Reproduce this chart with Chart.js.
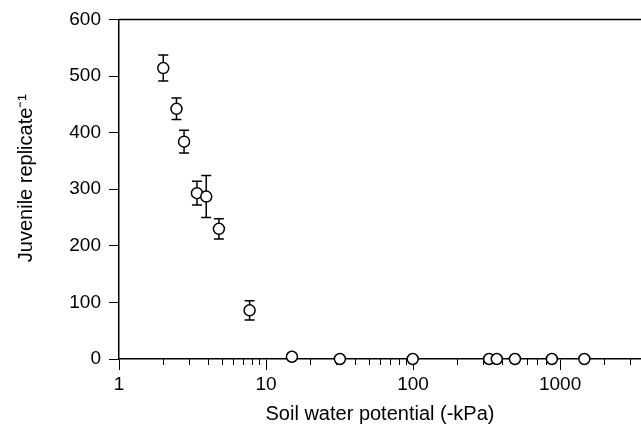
<!DOCTYPE html>
<html lang="en">
<head>
    <meta charset="UTF-8">
    <title>Juveniles vs soil water potential</title>
    <script src="https://cdn.jsdelivr.net/npm/chart.js"></script>
    <style>
        html, body { margin: 0; padding: 0; background: #fff; }
        .chart-container { position: relative; width: 641px; height: 433px; }
    </style>
</head>
<body>
<div class="chart-container">
    <canvas id="myChart"></canvas>
</div>
<script>
    // Data
    const potential = [2.0, 2.46, 2.77, 3.39, 3.92, 4.78, 7.73, 15.0, 31.8, 99.5, 329, 371, 493, 879, 1462];
    const juveniles = [514, 442, 384, 293, 287, 230, 86, 4, 0, 0, 0, 0, 0, 0, 0];
    const errors = [23, 19, 20, 21, 37, 18, 17, 0, 0, 0, 0, 0, 0, 0, 0];
    const xTicks = [1, 2, 3, 4, 5, 6, 7, 8, 9, 10, 20, 30, 40, 50, 60, 70, 80, 90,
        100, 200, 300, 400, 500, 600, 700, 800, 900, 1000, 2000, 3000];
    const xLabels = [1, 10, 100, 1000];
    const yTicks = [0, 100, 200, 300, 400, 500, 600];

    const family = '"Liberation Sans", Arial, sans-serif';
    const tickFont = { family: family, size: 19 };
    const titleFont = { family: family, size: 20 };

    // error bars drawn behind the circles
    const errorBars = {
        id: 'errorBars',
        beforeDatasetsDraw(chart) {
            const { ctx, scales: { x, y } } = chart;
            ctx.save();
            ctx.strokeStyle = '#000';
            ctx.lineWidth = 1.5;
            potential.forEach((p, i) => {
                if (!errors[i]) return;
                const px = x.getPixelForValue(p);
                const top = y.getPixelForValue(juveniles[i] + errors[i]);
                const bot = y.getPixelForValue(juveniles[i] - errors[i]);
                ctx.beginPath();
                ctx.moveTo(px, top); ctx.lineTo(px, bot);
                ctx.moveTo(px - 5, top); ctx.lineTo(px + 5, top);
                ctx.moveTo(px - 5, bot); ctx.lineTo(px + 5, bot);
                ctx.stroke();
            });
            ctx.restore();
        }
    };

    // top frame line and short minor ticks on the log axis
    const frame = {
        id: 'frame',
        beforeDatasetsDraw(chart) {
            const { ctx, chartArea, scales: { x } } = chart;
            ctx.save();
            ctx.strokeStyle = '#000';
            ctx.lineWidth = 1.5;
            ctx.beginPath();
            ctx.moveTo(chartArea.left, chartArea.top);
            ctx.lineTo(chartArea.right, chartArea.top);
            ctx.stroke();
            ctx.lineWidth = 1;
            ctx.beginPath();
            xTicks.filter(v => !xLabels.includes(v)).forEach(v => {
                const px = Math.round(x.getPixelForValue(v)) + 0.5;
                ctx.moveTo(px, chartArea.bottom);
                ctx.lineTo(px, chartArea.bottom + 6);
            });
            ctx.stroke();
            ctx.restore();
        }
    };

    new Chart(document.getElementById('myChart'), {
        type: 'scatter',
        data: {
            datasets: [{
                data: potential.map((p, i) => ({ x: p, y: juveniles[i] })),
                clip: false,
                pointRadius: 5.5,
                pointHoverRadius: 5.5,
                pointBorderWidth: 1.5,
                pointBorderColor: '#000',
                pointBackgroundColor: '#fff'
            }]
        },
        options: {
            responsive: true,
            maintainAspectRatio: false,
            animation: false,
            layout: { padding: { top: 18, right: 0, left: 0, bottom: 0 }, autoPadding: false },
            plugins: { legend: { display: false }, tooltip: { enabled: false } },
            scales: {
                x: {
                    type: 'logarithmic',
                    min: 1,
                    max: 3550,
                    afterBuildTicks: (scale) => { scale.ticks = xTicks.map(v => ({ value: v })); },
                    afterFit: (scale) => { scale.height = 74; },
                    ticks: {
                        color: '#000',
                        font: tickFont,
                        padding: 3,
                        maxRotation: 0,
                        autoSkip: false,
                        callback: (v) => xLabels.includes(v) ? String(v) : ''
                    },
                    grid: {
                        drawOnChartArea: false,
                        tickLength: 11,
                        tickWidth: 1,
                        tickColor: (c) => (c.tick && xLabels.includes(c.tick.value)) ? '#000' : 'rgba(0,0,0,0)'
                    },
                    border: { color: '#000', width: 1.5 },
                    title: {
                        display: true,
                        text: 'Soil water potential (-kPa)',
                        color: '#000',
                        font: titleFont,
                        padding: { top: 0, bottom: 7 }
                    }
                },
                y: {
                    min: 0,
                    max: 600,
                    afterBuildTicks: (scale) => { scale.ticks = yTicks.map(v => ({ value: v })); },
                    afterFit: (scale) => { scale.width = 119; },
                    ticks: { color: '#000', font: tickFont, padding: 8 },
                    grid: { drawOnChartArea: false, tickLength: 10, tickColor: '#000', tickWidth: 1 },
                    border: { color: '#000', width: 1.5 },
                    title: {
                        display: true,
                        // leading spaces nudge the rotated text up a little
                        text: '    Juvenile replicate⁻¹',
                        color: '#000',
                        font: titleFont,
                        padding: { top: 14, bottom: 0 }
                    }
                }
            }
        },
        plugins: [errorBars, frame]
    });
</script>
</body>
</html>
